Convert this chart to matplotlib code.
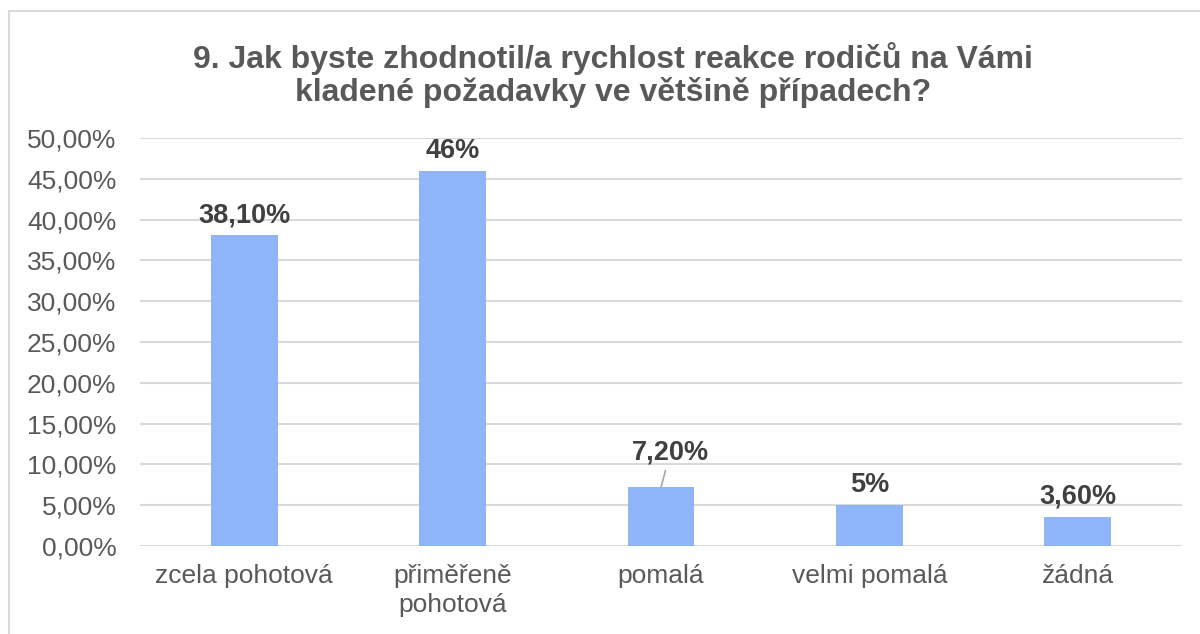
import matplotlib
matplotlib.use("Agg")
import matplotlib.pyplot as plt
from matplotlib.patches import Rectangle
from matplotlib.ticker import FuncFormatter

plt.rcParams["font.family"] = ["Liberation Sans", "DejaVu Sans"]

categories = ["zcela pohotová", "přiměřeně\npohotová", "pomalá", "velmi pomalá", "žádná"]
values = [0.381, 0.46, 0.072, 0.05, 0.036]
value_labels = ["38,10%", "46%", "7,20%", "5%", "3,60%"]

BAR = "#8FB5F9"
TEXT = "#595959"
LABEL = "#404040"
GRID = "#D9D9D9"

fig = plt.figure(figsize=(12, 6.34), dpi=100)
ax = fig.add_axes([140 / 1200, 1 - 546 / 634, 1042 / 1200, 408 / 634])

# chart border (only top/left visible in the crop)
fig.patches.append(Rectangle((9 / 1200, -0.1), 1.2, 1 - 11 / 634 + 0.1,
                             transform=fig.transFigure, fill=False,
                             edgecolor=GRID, linewidth=1.5))

x = list(range(len(categories)))
ax.bar(x, values, width=0.32, color=BAR, zorder=3)
ax.set_xlim(-0.5, len(categories) - 0.5)
ax.set_ylim(0, 0.5)
ax.set_yticks([i * 0.05 for i in range(11)])
ax.yaxis.set_major_formatter(FuncFormatter(lambda v, p: f"{v * 100:.2f}%".replace(".", ",")))
ax.grid(True, axis="y", color=GRID, linewidth=1.5, zorder=0)
for s in ax.spines.values():
    s.set_visible(False)
ax.tick_params(axis="y", length=0, pad=17, labelsize=19, labelcolor=TEXT)
ax.tick_params(axis="x", length=0, pad=13, labelsize=19, labelcolor=TEXT)
ax.set_xticks(x)
ax.set_xticklabels(categories, linespacing=1.25)

for i, (v, lab) in enumerate(zip(values, value_labels)):
    if i == 2:
        # label moved up with a leader line
        ax.annotate(lab, xy=(i, v), xytext=(i + 0.045, v + 0.043),
                    ha="center", va="center", fontsize=19.5, fontweight="bold",
                    color=LABEL, zorder=4,
                    arrowprops=dict(arrowstyle="-", color="#A6A6A6", lw=1.2,
                                    shrinkA=2, shrinkB=0))
    else:
        ax.annotate(lab, xy=(i, v), xytext=(0, 5), textcoords="offset points",
                    ha="center", va="bottom", fontsize=19.5, fontweight="bold",
                    color=LABEL, zorder=4)

fig.text(613 / 1200, 1 - 75 / 634,
         "9. Jak byste zhodnotil/a rychlost reakce rodičů na Vámi\nkladené požadavky ve většině případech?",
         ha="center", va="center", fontsize=23, fontweight="bold", color=TEXT,
         linespacing=1.12)

fig.savefig("out.png", dpi=100)
